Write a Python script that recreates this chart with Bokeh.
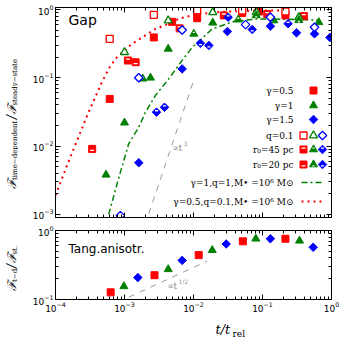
import numpy as np
from bokeh.plotting import figure
from bokeh.layouts import column, row
from bokeh.models import LogAxis, Label, Range1d, FixedTicker, CustomJSTickFormatter
from bokeh.embed import file_html
from bokeh.resources import INLINE

RED = "#ff0000"; GREEN = "#008000"; BLUE = "#0000ff"; GRAY = "#999999"

# ---------------- data: top panel ("Gap") ----------------
g05_filled_x = [6.1e-4, 2.66e-3, 4.9e-3, 0.0113, 0.0508, 0.0885, 0.215]
g05_filled_y = [0.049, 0.39, 0.66, 0.746, 0.89, 0.935, 0.82]
g05_open_x = [6.1e-4, 2.66e-3, 0.0113, 0.0508, 0.215]
g05_open_y = [0.372, 0.836, 0.98, 0.97, 0.935]
g05_r45_x = [1.12e-3, 6.3e-3, 0.0275, 0.117, 0.397]
g05_r45_y = [0.179, 0.53, 0.82, 0.86, 0.8]
g05_r20_x = [3.4e-4, 1.45e-3]
g05_r20_y = [0.0091, 0.169]

g1_filled_x = [5.4e-4, 1.0e-3, 2.38e-3, 4.3e-3, 0.019, 0.146, 0.655]
g1_filled_y = [0.0038, 0.022, 0.1, 0.265, 0.64, 0.69, 0.65]
g1_open_x = [1.0e-3, 4.3e-3, 0.019, 0.081, 0.336]
g1_open_y = [0.237, 0.69, 0.91, 0.91, 0.77]
g1_r45_x = [1.84e-3, 0.0101, 0.0445]
g1_r45_y = [0.097, 0.44, 0.71]
g1_r20_x = [0.081, 0.336]
g1_r20_y = [0.82, 0.7]

g15_filled_x = [1.61e-3, 6.85e-3, 0.031, 0.13, 0.311, 0.567, 0.95]
g15_filled_y = [0.0057, 0.135, 0.476, 0.57, 0.455, 0.44, 0.39]
g15_open_x = [8.7e-4, 1.61e-3, 6.85e-3, 0.0568, 0.13, 0.567]
g15_open_y = [0.00096, 0.1, 0.5, 0.6, 0.77, 0.55]
g15_r45_x = [2.91e-3, 3.8e-3, 0.0318, 0.235]
g15_r45_y = [0.0314, 0.037, 0.77, 0.62]
g15_r20_x = [0.0126, 0.0167, 0.071]
g15_r20_y = [0.32, 0.297, 0.51]

# model curves
red_dot_x = [1.0e-4, 1.5e-4, 2.3e-4, 3.0e-4, 4.7e-4, 5.9e-4, 7.4e-4, 1.0e-3, 1.29e-3, 1.8e-3,
             2.8e-3, 4.4e-3, 6.1e-3, 1.0e-2, 2.0e-2, 5.0e-2, 1.0e-1, 2.0e-1]
red_dot_y = [0.0019, 0.0055, 0.016, 0.031, 0.086, 0.135, 0.19, 0.25, 0.315, 0.39,
             0.52, 0.62, 0.73, 0.83, 0.91, 0.95, 0.965, 0.97]
green_dd_x = [5.9e-4, 8.3e-4, 1.15e-3, 1.61e-3, 2.0e-3, 2.8e-3, 4.4e-3, 6.85e-3, 9.6e-3,
              0.0187, 0.0384, 0.084, 0.2, 0.655]
green_dd_y = [0.001, 0.0035, 0.0108, 0.0189, 0.031, 0.055, 0.097, 0.18, 0.28,
              0.52, 0.667, 0.73, 0.72, 0.7]
t3_x = [2.25e-3, 0.0103]
t3_y = [1.02e-3, 0.098]

# ---------------- data: bottom panel ("Tang.anisotr.") ----------------
b_red_x = [6.3e-4, 2.72e-3, 0.0119, 0.0519, 0.215]
b_red_y = [0.127, 0.225, 0.44, 0.697, 0.76]
b_green_x = [9.8e-4, 4.3e-3, 0.0187, 0.08, 0.344]
b_green_y = [0.155, 0.274, 0.518, 0.76, 0.71]
b_blue_x = [1.56e-3, 6.85e-3, 0.0298, 0.13, 0.543]
b_blue_y = [0.208, 0.369, 0.638, 0.76, 0.571]
thalf_x = [1.15e-3, 0.0158]
thalf_y = [0.108, 0.36]

# ticks
x_major = [1e-4, 1e-3, 1e-2, 1e-1, 1e0]
top_y_major = [1e-3, 1e-2, 1e-1, 1e0]
bot_y_major = [1e-1, 1e0]

legend_labels = ["γ=0.5", "γ=1", "γ=1.5", "q=0.1", "r₀=45 pc", "r₀=20 pc",
                 "γ=1,q=1,M• =10⁶ M⊙", "γ=0.5,q=0.1,M• =10⁶ M⊙"]

X_RANGE = (1e-4, 1.0)
TOP_Y = (9e-4, 1.07)
BOT_Y = (0.1, 1.0)
FW = 276
TOP_FH = 210
BOT_FH = 69
YLAB_W = 18          # width of the strip holding the y-axis titles
BL = 55 - YLAB_W     # remaining left border of the panels
PAGE_H = 341
XLAB_H = 26

RED_DASH = "2 4"
GREEN_DASH = "6 3 2 3"
GRAY_DASH = "6 6"


def minors(lo_exp, hi_exp):
    return [m * 10.0 ** e for e in range(lo_exp, hi_exp) for m in range(2, 10)]


def hide_labels(ax):
    ax.formatter = CustomJSTickFormatter(code="return ''")
    ax.major_label_text_font_size = "1px"
    ax.major_label_standoff = 0


def make_fig(yr, fh, bt, bb, ymaj, ymin_exp):
    p = figure(x_axis_type="log", y_axis_type="log",
               x_range=Range1d(*X_RANGE), y_range=Range1d(*yr),
               frame_width=FW, frame_height=fh,
               min_border_left=BL, min_border_right=10,
               min_border_top=bt, min_border_bottom=bb,
               output_backend="svg", toolbar_location=None)
    p.grid.visible = False
    p.outline_line_color = "black"
    p.outline_line_width = 1
    p.background_fill_color = "white"
    p.border_fill_color = "white"
    bottom_ax = p.below[0]
    left_ax = p.left[0]
    bottom_ax.ticker = FixedTicker(ticks=x_major, minor_ticks=minors(-4, 0))
    left_ax.ticker = FixedTicker(ticks=ymaj, minor_ticks=minors(ymin_exp, 0))
    top_ax = LogAxis(ticker=FixedTicker(ticks=x_major, minor_ticks=minors(-4, 0)))
    right_ax = LogAxis(ticker=FixedTicker(ticks=ymaj, minor_ticks=minors(ymin_exp, 0)))
    p.add_layout(top_ax, "above")
    p.add_layout(right_ax, "right")
    for ax in (bottom_ax, left_ax, top_ax, right_ax):
        ax.major_tick_in = 5
        ax.major_tick_out = 0
        ax.minor_tick_in = 3
        ax.minor_tick_out = 0
        ax.axis_line_color = "black"
        ax.major_tick_line_color = "black"
        ax.minor_tick_line_color = "black"
        ax.major_label_text_font = "DejaVu Sans"
        ax.major_label_text_font_size = "9px"
        ax.major_label_text_color = "black"
        ax.major_label_standoff = 2
    hide_labels(top_ax)
    hide_labels(right_ax)
    return p, bottom_ax


p1, p1_bottom = make_fig(TOP_Y, TOP_FH, 7, 6, top_y_major, -4)
hide_labels(p1_bottom)
p2, _ = make_fig(BOT_Y, BOT_FH, 7, 16, bot_y_major, -1)

PPD_TOP = TOP_FH / (np.log10(TOP_Y[1]) - np.log10(TOP_Y[0]))
PPD_BOT = BOT_FH / (np.log10(BOT_Y[1]) - np.log10(BOT_Y[0]))


def blank_fig(w, h):
    f = figure(x_range=Range1d(0, w), y_range=Range1d(0, h), frame_width=w, frame_height=h,
               min_border_left=0, min_border_right=0, min_border_top=0, min_border_bottom=0,
               x_axis_location=None, y_axis_location=None,
               output_backend="svg", toolbar_location=None)
    f.grid.visible = False
    f.outline_line_color = None
    f.background_fill_color = "white"
    f.border_fill_color = "white"
    return f


ylab_fig = blank_fig(YLAB_W, PAGE_H)
xlab_fig = blank_fig(BL + FW + 10, XLAB_H)


def draw(p, x, y, marker, color, style, ppd):
    angle = np.pi / 4 if marker == "diamond" else 0.0
    m = "square" if marker == "diamond" else marker
    size = {"square": 7, "triangle": 8, "diamond": 6}[marker]
    if style == "open":
        p.scatter(x, y, marker=m, size=size, angle=angle, fill_color="white",
                  line_color=color, line_width=1.3)
        return
    p.scatter(x, y, marker=m, size=size, angle=angle, fill_color=color,
              line_color=color, line_width=1)
    if style in ("bottom", "top"):
        off = 1.4 if style == "bottom" else -1.4
        sw = {"square": 4, "triangle": 2, "diamond": 3}[marker]
        ys = np.asarray(y, dtype=float) * 10 ** (off / ppd)
        p.rect(x, ys, width=sw, height=1.3, width_units="screen", height_units="screen",
               fill_color="white", line_color=None)


# curves in top panel
p1.line(red_dot_x, red_dot_y, line_color=RED, line_width=2, line_dash=RED_DASH)
p1.line(green_dd_x, green_dd_y, line_color=GREEN, line_width=1.5, line_dash=GREEN_DASH)
p1.line(t3_x, t3_y, line_color=GRAY, line_width=1, line_dash=GRAY_DASH)

series = [
    (g05_filled_x, g05_filled_y, "square", RED, "filled"),
    (g05_open_x, g05_open_y, "square", RED, "open"),
    (g05_r45_x, g05_r45_y, "square", RED, "bottom"),
    (g05_r20_x, g05_r20_y, "square", RED, "top"),
    (g1_filled_x, g1_filled_y, "triangle", GREEN, "filled"),
    (g1_open_x, g1_open_y, "triangle", GREEN, "open"),
    (g1_r45_x, g1_r45_y, "triangle", GREEN, "bottom"),
    (g1_r20_x, g1_r20_y, "triangle", GREEN, "top"),
    (g15_filled_x, g15_filled_y, "diamond", BLUE, "filled"),
    (g15_open_x, g15_open_y, "diamond", BLUE, "open"),
    (g15_r45_x, g15_r45_y, "diamond", BLUE, "bottom"),
    (g15_r20_x, g15_r20_y, "diamond", BLUE, "top"),
]
for sx, sy, mk, col, st in series:
    draw(p1, sx, sy, mk, col, st, PPD_TOP)

# bottom panel
p2.line(thalf_x, thalf_y, line_color=GRAY, line_width=1, line_dash=GRAY_DASH)
draw(p2, b_red_x, b_red_y, "square", RED, "filled", PPD_BOT)
draw(p2, b_green_x, b_green_y, "triangle", GREEN, "filled", PPD_BOT)
draw(p2, b_blue_x, b_blue_y, "diamond", BLUE, "filled", PPD_BOT)


# ---------------- annotations ----------------
def lab(p, x, y, text, font="DejaVu Sans", size="10px", color="black", align="left",
        baseline="middle", angle=0, style="normal"):
    p.add_layout(Label(x=x, y=y, x_units="screen", y_units="screen", text=text,
                       text_font=font, text_font_size=size, text_color=color,
                       text_align=align, text_baseline=baseline, angle=angle,
                       angle_units="deg", text_font_style=style))


lab(p1, 13, TOP_FH - 4, "Gap", size="14px", baseline="top")
lab(p2, 13, BOT_FH - 18, "Tang.anisotr.", size="12px")

# proportional labels
lab(p1, 117, 70, "∝t", font="DejaVu Serif", size="9px", color="#888888")
lab(p1, 128, 74, "3", font="DejaVu Serif", size="6px", color="#888888")
lab(p2, 112, 14, "∝t", font="DejaVu Serif", size="9px", color="#888888")
lab(p2, 123, 18, "1/2", font="DejaVu Serif", size="6px", color="#888888")


# legend (top panel, bottom-right)
def fx2x(px):
    a, b = np.log10(X_RANGE[0]), np.log10(X_RANGE[1])
    return 10 ** (a + px / FW * (b - a))


def fy2y(py):
    a, b = np.log10(TOP_Y[0]), np.log10(TOP_Y[1])
    return 10 ** (a + py / TOP_FH * (b - a))


row_y = [127, 112, 98, 82, 68, 53, 35, 16]
for text, ry in zip(legend_labels, row_y):
    lab(p1, 238, ry, text, font="DejaVu Serif", size="9px", align="right")

single = [("square", RED), ("triangle", GREEN), ("diamond", BLUE)]
for (mk, col), ry in zip(single, row_y[:3]):
    draw(p1, [fx2x(258)], [fy2y(ry)], mk, col, "filled", PPD_TOP)
for st, ry in zip(["open", "bottom", "top"], row_y[3:6]):
    for (mk, col), px in zip(single, [248, 258, 267]):
        draw(p1, [fx2x(px)], [fy2y(ry)], mk, col, st, PPD_TOP)
p1.line([fx2x(246), fx2x(269)], [fy2y(row_y[6])] * 2, line_color=GREEN, line_width=1.5,
        line_dash=GREEN_DASH)
p1.line([fx2x(246), fx2x(269)], [fy2y(row_y[7])] * 2, line_color=RED, line_width=2,
        line_dash=RED_DASH)


# y-axis titles, composed from pieces (rotated), in the left strip
def ylabel(f, start, pieces):
    y = start
    for text, big, w in pieces:
        if big:
            lab(f, 11.5, y, text, font="DejaVu Serif", size="12px", angle=90, style="italic")
        else:
            lab(f, 14.3, y, text, font="DejaVu Serif", size="7px", angle=90)
        y += w


ylabel(ylab_fig, PAGE_H - 188, [("ℱ", True, 8.5), ("time−dependent", False, 61), ("/", True, 5),
                                ("ℱ", True, 8.5), ("steady−state", False, 48)])
ylabel(ylab_fig, PAGE_H - 290, [("ℱ", True, 8.5), ("t−d", False, 14), ("/", True, 5),
                                ("ℱ", True, 8.5), ("st.", False, 9)])

# x-axis title, in the bottom strip
lab(xlab_fig, 178 - YLAB_W, 12, "t/t", font="DejaVu Serif", size="13px", style="italic")
lab(xlab_fig, 195 - YLAB_W, 8, "rel", font="DejaVu Serif", size="9px")

layout = row(ylab_fig, column(p1, p2, xlab_fig))
open("out.html", "w").write(file_html(layout, INLINE))
